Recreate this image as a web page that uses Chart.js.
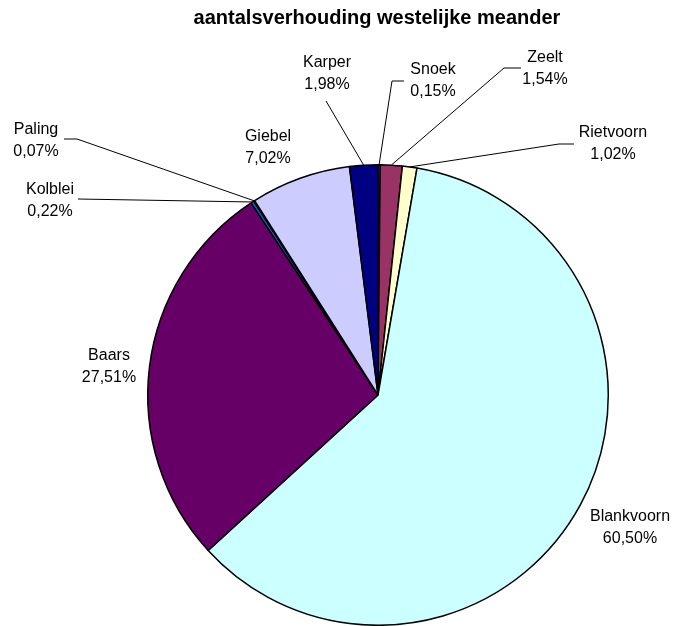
<!DOCTYPE html>
<html>
<head>
<meta charset="utf-8">
<script src="https://cdn.jsdelivr.net/npm/chart.js@4"></script>
<style>
  html, body { margin: 0; padding: 0; background: #fff; }
  #wrap { width: 677px; height: 626px; }
</style>
</head>
<body>
<div id="wrap"><canvas id="pie" width="677" height="626"></canvas></div>
<script>
// ---------------- DATA ----------------
const TITLE = 'aantalsverhouding westelijke meander';
const species = ['Snoek', 'Zeelt', 'Rietvoorn', 'Blankvoorn', 'Baars', 'Kolblei', 'Paling', 'Giebel', 'Karper'];
const shares  = [0.15, 1.54, 1.02, 60.50, 27.51, 0.22, 0.07, 7.02, 1.98];
const colors  = ['#9999FF', '#993366', '#FFFFCC', '#CCFFFF', '#660066', '#0066CC', '#0066CC', '#CCCCFF', '#000080'];

// label placement: text centre x, first line y, and optional leader start (elbow) points
const labelPos = {
  Snoek:      { x: 433, y: 70,  leader: [[404, 81], [392, 81]] },
  Zeelt:      { x: 545, y: 58,  leader: [[521, 68], [504, 68]] },
  Rietvoorn:  { x: 613, y: 133, leader: [[574, 144], [559, 144]] },
  Blankvoorn: { x: 630, y: 517 },
  Baars:      { x: 109, y: 356 },
  Kolblei:    { x: 50,  y: 190, leader: [[78, 199]] },
  Paling:     { x: 36,  y: 130, leader: [[64, 139], [77, 139]] },
  Giebel:     { x: 268, y: 137 },
  Karper:     { x: 327, y: 63,  leader: [[326, 101]] }
};

const fmt = v => v.toFixed(2).replace('.', ',') + '%';

// ---------------- labels + leader lines ----------------
const pieLabels = {
  id: 'pieLabels',
  afterDraw(chart) {
    const ctx = chart.ctx;
    const meta = chart.getDatasetMeta(0);
    ctx.save();

    ctx.fillStyle = '#000';
    ctx.font = 'bold 20px "Liberation Sans", Arial, sans-serif';
    ctx.textAlign = 'center';
    ctx.textBaseline = 'middle';
    ctx.fillText(TITLE, 377, 18);

    ctx.font = '16px "Liberation Sans", Arial, sans-serif';
    species.forEach((name, i) => {
      const p = labelPos[name];
      ctx.fillStyle = '#000';
      ctx.fillText(name, p.x, p.y);
      ctx.fillText(fmt(shares[i]), p.x, p.y + 22);

      if (!p.leader) return;
      const arc = meta.data[i];
      const mid = (arc.startAngle + arc.endAngle) / 2;
      const ex = arc.x + Math.cos(mid) * arc.outerRadius;
      const ey = arc.y + Math.sin(mid) * arc.outerRadius;
      ctx.strokeStyle = '#000';
      ctx.lineWidth = 1;
      ctx.beginPath();
      ctx.moveTo(p.leader[0][0], p.leader[0][1]);
      p.leader.slice(1).forEach(pt => ctx.lineTo(pt[0], pt[1]));
      ctx.lineTo(ex, ey);
      ctx.stroke();
    });
    ctx.restore();
  }
};

new Chart(document.getElementById('pie').getContext('2d'), {
  type: 'pie',
  data: {
    labels: species,
    datasets: [{
      data: shares,
      backgroundColor: colors,
      borderColor: '#000',
      borderWidth: 1.5
    }]
  },
  options: {
    responsive: false,
    animation: false,
    rotation: 0,
    layout: { padding: { left: 147, right: 68, top: 164, bottom: 0 } },
    plugins: {
      legend: { display: false },
      title: { display: false },
      tooltip: { enabled: false }
    }
  },
  plugins: [pieLabels]
});
</script>
</body>
</html>
